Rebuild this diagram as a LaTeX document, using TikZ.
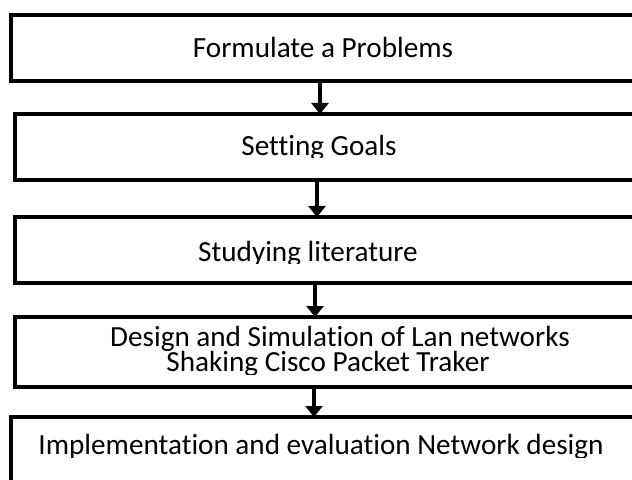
\documentclass[tikz,border=0pt]{standalone}
\usepackage{fontspec}
\setmainfont{Carlito}[Ligatures=NoCommon]
\usetikzlibrary{arrows.meta}

\begin{document}
\begin{tikzpicture}[x=1bp,y=-1bp,>={Triangle[width=17bp,length=11bp]},
      box/.style={draw,line width=3.3bp,outer sep=0pt,minimum width=650bp,
        minimum height=66bp,anchor=north west},
      lbl/.style={anchor=base,inner sep=0pt,font=\fontsize{29.3}{20}\selectfont},
      link/.style={->,line width=4bp}]
  \useasboundingbox (0,0) rectangle (632,480);
  \clip (0,0) rectangle (632,480);
  % boxes, cut off at the right edge
  \node[box,minimum width=649bp] (b1) at (11,15) {};
  \node[box,minimum width=645bp] (b2) at (15,114) {};
  \node[box,minimum width=645bp] (b3) at (15,217) {};
  \node[box,minimum width=645bp,minimum height=70bp] (b4) at (15,317) {};
  \node[box,minimum width=649bp,minimum height=110bp] (b5) at (11,417) {};
  % labels
  \node[lbl] (t1) at (323,58) {Formulate a Problems};
  \begin{scope}
    \clip (0,0) rectangle (632,158);
    \node[lbl] (t2) at (319,156) {Setting Goals};
  \end{scope}
  \begin{scope}
    \clip (0,0) rectangle (632,263);
    \node[lbl] (t3) at (308,261) {Studying literature};
  \end{scope}
  \begin{scope}
    \clip (0,0) rectangle (632,374);
    \node[lbl] (t4) at (340,346) {Design and Simulation of Lan networks};
    \node[lbl] (t4b) at (328,371) {Shaking Cisco Packet Traker};
  \end{scope}
  \begin{scope}
    \clip (0,0) rectangle (632,457);
    \node[lbl] (t5) at (321,454) {Implementation and evaluation Network design};
  \end{scope}
  % arrows
  \foreach \a/\b/\s in {b1/b2/-15.5bp, b2/b3/-20.5bp, b3/b4/-22.5bp, b4/b5/-23.5bp}
    \draw[link] ([xshift=\s]\a.south) -- ([xshift=\s]\a.south |- \b.north);
\end{tikzpicture}
\end{document}
